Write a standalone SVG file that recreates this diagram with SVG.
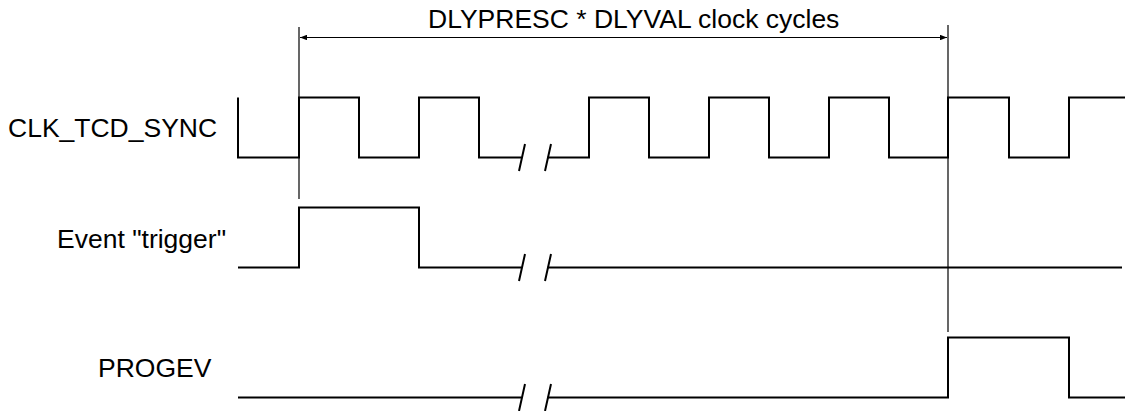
<svg xmlns="http://www.w3.org/2000/svg" width="1125" height="411" viewBox="0 0 1125 411">
<style>
.lbl{font-family:"Liberation Sans",Arial,sans-serif;font-size:26.5px;fill:#000}
.sig{fill:none;stroke:#000;stroke-width:2}
.brk{fill:none;stroke:#000;stroke-width:2}
.mk{fill:none;stroke:#000;stroke-width:1.2}
</style>
<defs>
<marker id="ah" viewBox="0 0 10 10" refX="10" refY="5" markerWidth="7" markerHeight="5.5" markerUnits="userSpaceOnUse" orient="auto-start-reverse" preserveAspectRatio="none">
<path d="M0,0 L10,5 L0,10 Z" fill="#000"/>
</marker>
</defs>
<rect width="1125" height="411" fill="#fff"/>
<g id="labels">
<text class="lbl" x="8" y="136.5">CLK_TCD_SYNC</text>
<text class="lbl" x="57" y="248">Event "trigger"</text>
<text class="lbl" x="98" y="377">PROGEV</text>
</g>
<g id="clk">
<path class="sig" d="M238,97.5 V157.5 H299 V97.5 H359 V157.5 H419 V97.5 H479 V157.5 H521.5"/>
<path class="sig" d="M547.5,157.5 H589 V97.5 H649 V157.5 H709 V97.5 H769 V157.5 H829 V97.5 H889 V157.5 H948 V97.5 H1009 V157.5 H1069 V97.5 H1125"/>
<path class="brk" d="M525,144 L519,171 M551,144 L545,171"/>
</g>
<g id="trigger">
<path class="sig" d="M238,267.5 H299 V207.5 H419 V267.5 H521.5"/>
<path class="sig" d="M547.5,267.5 H1122"/>
<path class="brk" d="M525,254 L519,281 M551,254 L545,281"/>
</g>
<g id="progev">
<path class="sig" d="M238,397.5 H521.5"/>
<path class="sig" d="M547.5,397.5 H948 V337.5 H1069 V397.5 H1125"/>
<path class="brk" d="M525,384 L519,411 M551,384 L545,411"/>
</g>
<g id="connectors">
<line class="mk" x1="299" y1="27" x2="299" y2="199"/>
<line class="mk" x1="948" y1="25" x2="948" y2="332"/>
<line class="mk" x1="300" y1="37.5" x2="947" y2="37.5" marker-start="url(#ah)" marker-end="url(#ah)"/>
<text class="lbl" x="428" y="28">DLYPRESC * DLYVAL clock cycles</text>
</g>
</svg>
